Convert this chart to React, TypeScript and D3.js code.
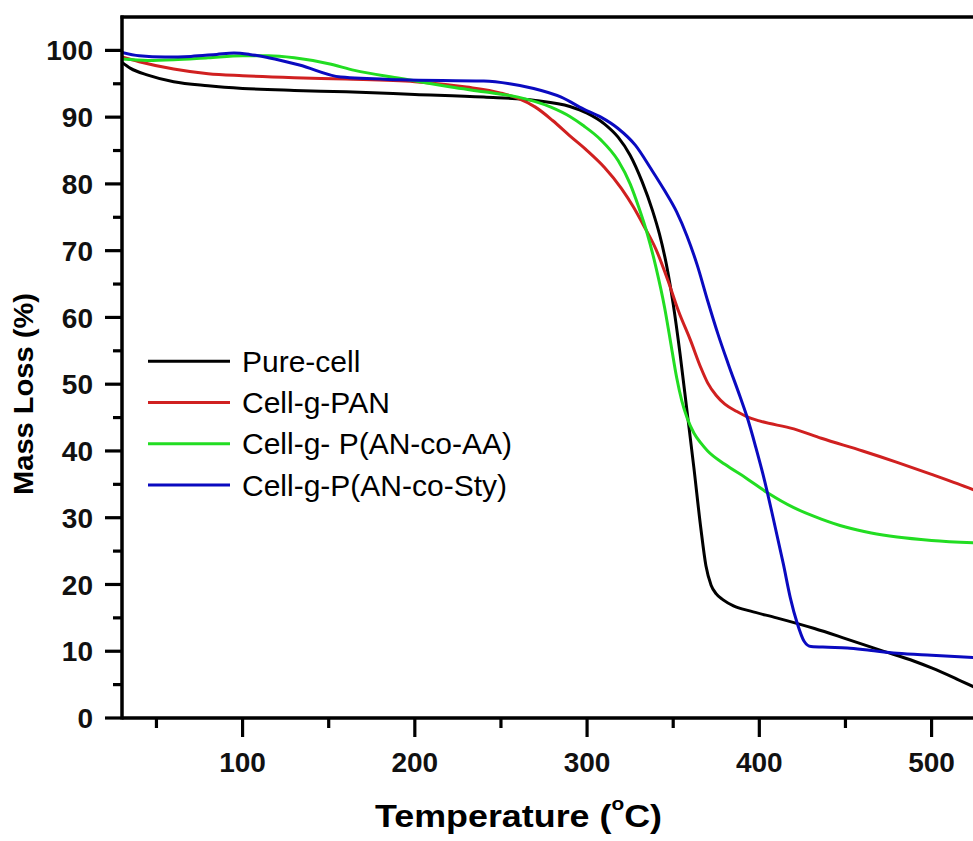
import React from "react";
import * as d3 from "d3";

// ---- Data ----
const pureCellT = [30, 35, 45, 60, 80, 100, 130, 160, 200, 240, 270, 290, 300, 310, 318, 325, 332, 338, 342, 346, 350, 354, 358, 362, 366, 369, 372, 375, 379, 385, 395, 410, 432, 450, 471, 490, 500, 515, 530];
const pureCellV = [98.2, 97.3, 96.3, 95.3, 94.7, 94.3, 94.0, 93.8, 93.4, 93.0, 92.5, 91.6, 90.6, 89.0, 87.0, 84.3, 80.3, 76, 72.5, 68, 62, 54.5, 46, 37.5, 28.5, 22.8, 19.9, 18.6, 17.7, 16.8, 16.0, 15.0, 13.4, 11.9, 10.1, 8.5, 7.5, 5.8, 4.0];

const panT = [30, 40, 60, 80, 100, 130, 160, 200, 230, 250, 260, 270, 280, 290, 300, 310, 320, 327, 333, 340, 347, 353, 360, 366, 370, 375, 380, 387, 393, 400, 420, 436, 460, 480, 500, 515, 530];
const panV = [99.0, 98.3, 97.2, 96.5, 96.2, 95.9, 95.7, 95.3, 94.5, 93.6, 92.8, 91.5, 89.5, 87.2, 85, 82.5, 79.3, 76.5, 73.7, 70.2, 65.5, 61, 56.6, 52.5, 50.2, 48.3, 47.0, 45.9, 45.1, 44.5, 43.3, 41.9, 40, 38.3, 36.5, 35.1, 33.6];

const aaT = [30, 45, 60, 80, 100, 115, 130, 150, 165, 192, 221, 240, 260, 279, 290, 298, 308, 318, 325, 330, 335, 340, 345, 349, 352, 355, 358, 362, 366, 370, 380, 392, 405, 420, 436, 450, 465, 480, 500, 530];
const aaV = [98.7, 98.5, 98.6, 98.9, 99.2, 99.2, 98.9, 98.0, 97, 95.8, 94.5, 93.8, 93.0, 91.5, 90.1, 88.7, 86.6, 83.5, 80, 76.5, 72.5, 67.5, 61.5, 55.5, 51, 47.5, 45, 42.7, 41.2, 40, 38, 36, 33.7, 31.5, 29.8, 28.6, 27.7, 27.1, 26.6, 26.2];

const styT = [30, 40, 55, 70, 85, 95, 104, 115, 133, 157, 192, 240, 255, 269, 285, 298, 308, 318, 328, 337, 345, 352, 358, 364, 370, 376, 382, 389, 393, 398, 403, 408, 414, 418, 422, 426, 430, 440, 451, 465, 480, 500, 530];
const styV = [99.7, 99.2, 99.0, 99.1, 99.4, 99.6, 99.4, 98.9, 97.8, 96.0, 95.6, 95.4, 95.0, 94.3, 93.0, 91.2, 90.0, 88.3, 85.8, 82.3, 79.0, 75.8, 72.2, 67.8, 62.5, 57.5, 53, 48, 45, 40.5, 35.6, 30, 23, 18, 14.2, 11.5, 10.7, 10.6, 10.5, 10.1, 9.7, 9.4, 9.0];

const seriesNames = ["Pure-cell", "Cell-g-PAN", "Cell-g- P(AN-co-AA)", "Cell-g-P(AN-co-Sty)"];
const seriesColors = ["#000000", "#d02020", "#22dd22", "#0a0ac0"];

const xMajorTicks = [100, 200, 300, 400, 500];
const xMinorTicks = [50, 150, 250, 350, 450];
const yMajorTicks = [0, 10, 20, 30, 40, 50, 60, 70, 80, 90, 100];
const yMinorTicks = [5, 15, 25, 35, 45, 55, 65, 75, 85, 95];

export default function App() {
  const W = 973;
  const H = 841;
  const left = 122;
  const bottom = 718;
  const top = 17;

  const x = d3.scaleLinear().domain([30, 530]).range([left, left + 500 * 1.7225]);
  const y = d3.scaleLinear().domain([0, 105]).range([bottom, top]);

  const series = [
    { t: pureCellT, v: pureCellV },
    { t: panT, v: panV },
    { t: aaT, v: aaV },
    { t: styT, v: styV },
  ];

  const line = d3
    .line<[number, number]>()
    .x((d) => x(d[0]))
    .y((d) => y(d[1]))
    .curve(d3.curveMonotoneX);

  const axisW = 3.5;
  const font = "Arial, 'Liberation Sans', sans-serif";

  return (
    <svg
      width={W}
      height={H}
      style={{ position: "absolute", left: 0, top: 0, display: "block", background: "#fff" }}
    >
      <rect x={0} y={0} width={W} height={H} fill="#fff" />
      <defs>
        <clipPath id="plotClip">
          <rect x={left} y={top} width={W - left} height={bottom - top} />
        </clipPath>
      </defs>

      {/* curves */}
      <g clipPath="url(#plotClip)">
        {series.map((s, i) => (
          <path
            key={i}
            d={line(s.t.map((t, j) => [t, s.v[j]] as [number, number])) || ""}
            fill="none"
            stroke={seriesColors[i]}
            strokeWidth={3}
            strokeLinejoin="round"
          />
        ))}
      </g>

      {/* frame */}
      <line x1={left - 1.5} x2={W} y1={top} y2={top} stroke="#000" strokeWidth={axisW} />
      <line x1={left} x2={left} y1={top - 1.5} y2={bottom + 1.5} stroke="#000" strokeWidth={axisW} />
      <line x1={left} x2={W} y1={bottom} y2={bottom} stroke="#000" strokeWidth={axisW} />

      {/* y ticks */}
      {yMajorTicks.map((t) => (
        <g key={"ym" + t}>
          <line x1={left - 17} x2={left} y1={y(t)} y2={y(t)} stroke="#000" strokeWidth={3.2} />
          <text
            x={93}
            y={y(t)}
            dy="0.36em"
            textAnchor="end"
            fontFamily={font}
            fontWeight="bold"
            fontSize={28}
            fill="#111"
          >
            {t}
          </text>
        </g>
      ))}
      {yMinorTicks.map((t) => (
        <line key={"yn" + t} x1={left - 9} x2={left} y1={y(t)} y2={y(t)} stroke="#000" strokeWidth={3.2} />
      ))}

      {/* x ticks */}
      {xMajorTicks.map((t) => (
        <g key={"xm" + t}>
          <line x1={x(t)} x2={x(t)} y1={bottom} y2={bottom + 19} stroke="#000" strokeWidth={3.2} />
          <text
            x={x(t)}
            y={772}
            textAnchor="middle"
            fontFamily={font}
            fontWeight="bold"
            fontSize={28}
            fill="#111"
          >
            {t}
          </text>
        </g>
      ))}
      {xMinorTicks.map((t) => (
        <line key={"xn" + t} x1={x(t)} x2={x(t)} y1={bottom} y2={bottom + 10} stroke="#000" strokeWidth={3.2} />
      ))}

      {/* axis titles */}
      <text
        x={375}
        y={827}
        fontFamily={font}
        fontWeight="bold"
        fontSize={31}
        fill="#000"
        textLength={287}
        lengthAdjust="spacingAndGlyphs"
      >
        <tspan>Temperature (</tspan>
        <tspan dy={-17} fontSize={18}>o</tspan>
        <tspan dy={17}>C)</tspan>
      </text>
      <text
        transform="translate(33,495) rotate(-90)"
        fontFamily={font}
        fontWeight="bold"
        fontSize={27}
        fill="#000"
        textLength={202}
        lengthAdjust="spacingAndGlyphs"
      >
        Mass Loss (%)
      </text>

      {/* legend */}
      {seriesNames.map((name, i) => {
        const base = 371.7 + i * 41.3;
        return (
          <g key={"lg" + i}>
            <line x1={148} x2={230} y1={base - 10.5} y2={base - 10.5} stroke={seriesColors[i]} strokeWidth={3} />
            <text x={242} y={base} fontFamily={font} fontSize={30} fill="#000">
              {name}
            </text>
          </g>
        );
      })}
    </svg>
  );
}
